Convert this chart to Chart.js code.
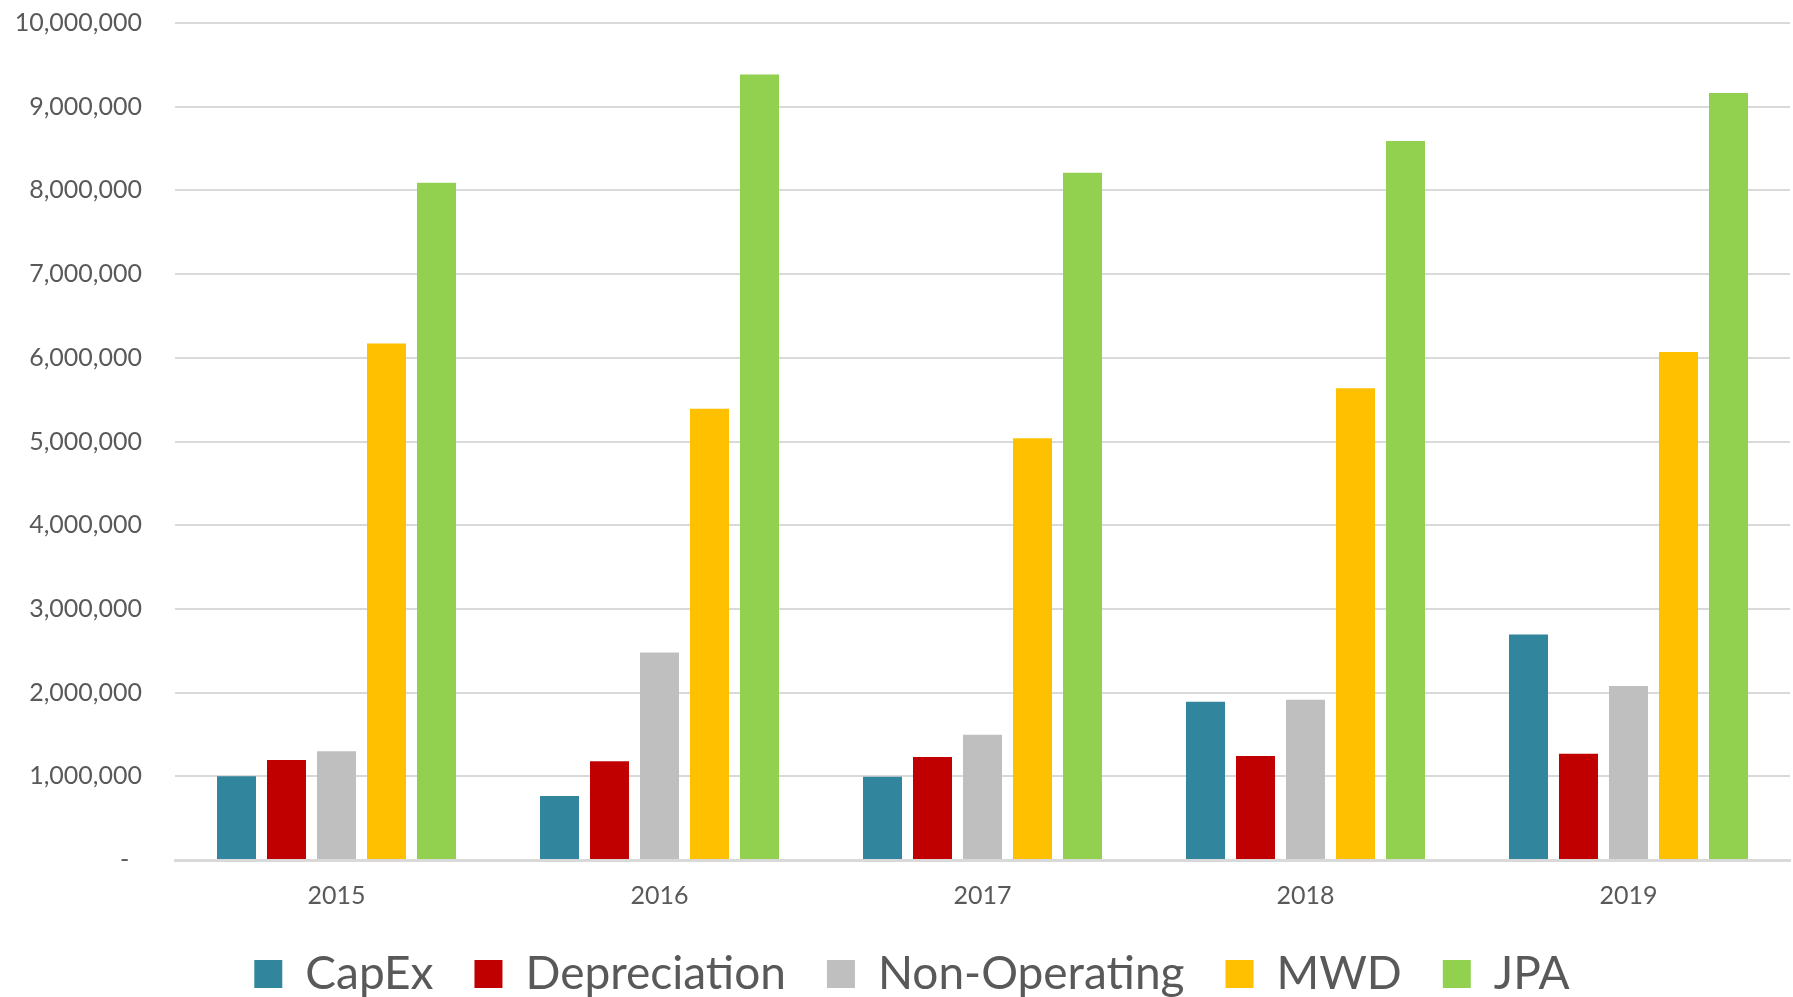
<!DOCTYPE html>
<html>
<head>
<meta charset="utf-8">
<title>Costs by year</title>
<script src="https://cdn.jsdelivr.net/npm/chart.js@4/dist/chart.umd.min.js"></script>
<style>
  html, body { margin: 0; padding: 0; background: #ffffff; }
  #wrap { width: 1793px; height: 997px; position: relative; }
</style>
</head>
<body>
<div id="wrap"><canvas id="chart" width="1793" height="997"></canvas></div>
<script>
// Years on the category axis
const years = ['2015', '2016', '2017', '2018', '2019'];

// Series values (dollars)
const capex          = [1000000,  766000,  996000, 1890000, 2695000];
const depreciation   = [1196000, 1180000, 1230000, 1244000, 1268000];
const nonOperating   = [1300000, 2480000, 1495000, 1914000, 2080000];
const mwd            = [6170000, 5390000, 5040000, 5635000, 6070000];
const jpa            = [8090000, 9385000, 8210000, 8590000, 9165000];

// Value axis range
const yMin = 0;
const yMax = 10000000;
const yStep = 1000000;

const seriesNames  = ['CapEx', 'Depreciation', 'Non-Operating', 'MWD', 'JPA'];
const seriesValues = [capex, depreciation, nonOperating, mwd, jpa];
const seriesColors = ['#31859C', '#C00000', '#BFBFBF', '#FFC000', '#92D050'];

const textColor = '#595959';
const gridColor = '#D9D9D9';
const fontFamily = 'Lato, "Open Sans", "Liberation Sans", sans-serif';

const datasets = seriesNames.map((name, i) => ({
  label: name,
  data: seriesValues[i],
  backgroundColor: seriesColors[i],
  borderWidth: 0,
  categoryPercentage: 0.774,
  barPercentage: 0.78
}));

// Nudges the bottom legend after layout so it sits under the plot's centre line
const legendNudge = {
  id: 'legendNudge',
  afterLayout(chart) {
    const lg = chart.legend;
    if (!lg) return;
    const dx = 17, dy = -5;
    lg.left += dx; lg.right += dx;
    lg.top += dy; lg.bottom += dy;
  }
};

new Chart(document.getElementById('chart'), {
  type: 'bar',
  data: { labels: years, datasets },
  plugins: [legendNudge],
  options: {
    responsive: false,
    animation: false,
    layout: { padding: { top: 23, right: 3, bottom: -15, left: 0 } },
    plugins: {
      tooltip: { enabled: false },
      legend: {
        position: 'bottom',
        labels: {
          color: textColor,
          font: { family: fontFamily, size: 46 },
          boxWidth: 28,
          boxHeight: 28,
          padding: 41
        }
      }
    },
    scales: {
      x: {
        grid: { display: false, drawTicks: false },
        border: { display: true, color: gridColor, width: 3 },
        ticks: {
          color: textColor,
          font: { family: fontFamily, size: 25 },
          padding: 21
        },
        afterFit(scale) { scale.height = 55; }
      },
      y: {
        min: yMin,
        max: yMax,
        grid: { color: gridColor, lineWidth: 2, drawTicks: true, tickLength: 33, tickColor: 'rgba(0,0,0,0)' },
        border: { display: false },
        ticks: {
          stepSize: yStep,
          color: textColor,
          font: { family: fontFamily, size: 25 },
          padding: 0,
          callback: (v) => v === 0 ? '-  ' : Number(v).toLocaleString('en-US')
        },
        afterFit(scale) { scale.width = 175; }
      }
    }
  }
});
</script>
</body>
</html>
